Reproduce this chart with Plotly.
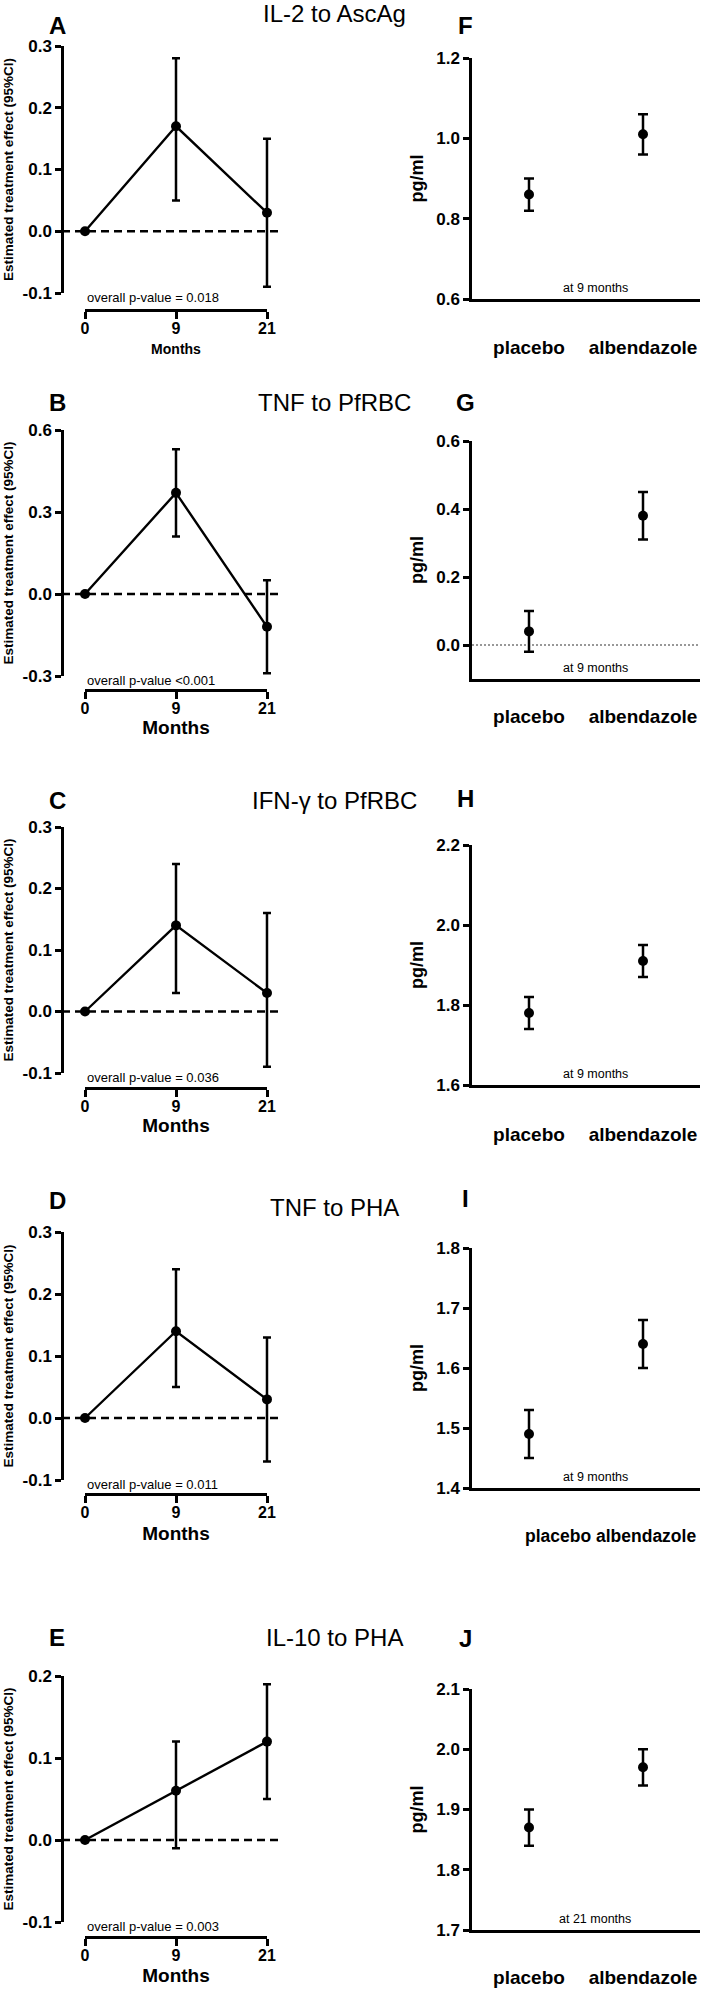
import plotly.graph_objects as go

W, H = 703, 1992

# ---------------- data ----------------
months = ["0", "9", "21"]
titles = ["IL-2 to AscAg", "TNF to PfRBC", "IFN-γ to PfRBC", "TNF to PHA", "IL-10 to PHA"]
left_letters = ["A", "B", "C", "D", "E"]
right_letters = ["F", "G", "H", "I", "J"]
pvalues = ["overall p-value = 0.018", "overall p-value <0.001", "overall p-value = 0.036",
           "overall p-value = 0.011", "overall p-value = 0.003"]

effect_A = [0, 0.17, 0.03]
lower_A = [0, 0.05, -0.09]
upper_A = [0, 0.28, 0.15]
effect_B = [0, 0.37, -0.12]
lower_B = [0, 0.21, -0.29]
upper_B = [0, 0.53, 0.05]
effect_C = [0, 0.14, 0.03]
lower_C = [0, 0.03, -0.09]
upper_C = [0, 0.24, 0.16]
effect_D = [0, 0.14, 0.03]
lower_D = [0, 0.05, -0.07]
upper_D = [0, 0.24, 0.13]
effect_E = [0, 0.06, 0.12]
lower_E = [0, -0.01, 0.05]
upper_E = [0, 0.12, 0.19]

left_ranges = [[-0.1, 0.3], [-0.3, 0.6], [-0.1, 0.3], [-0.1, 0.3], [-0.1, 0.2]]
left_tickvals = [[-0.1, 0.0, 0.1, 0.2, 0.3], [-0.3, 0.0, 0.3, 0.6], [-0.1, 0.0, 0.1, 0.2, 0.3],
                 [-0.1, 0.0, 0.1, 0.2, 0.3], [-0.1, 0.0, 0.1, 0.2]]
left_ticktext = [["-0.1", "0.0", "0.1", "0.2", "0.3"], ["-0.3", "0.0", "0.3", "0.6"],
                 ["-0.1", "0.0", "0.1", "0.2", "0.3"], ["-0.1", "0.0", "0.1", "0.2", "0.3"],
                 ["-0.1", "0.0", "0.1", "0.2"]]

groups = ["placebo", "albendazole"]
mean_F = [0.86, 1.01]
low_F = [0.82, 0.96]
high_F = [0.90, 1.06]
mean_G = [0.04, 0.38]
low_G = [-0.02, 0.31]
high_G = [0.10, 0.45]
mean_H = [1.78, 1.91]
low_H = [1.74, 1.87]
high_H = [1.82, 1.95]
mean_I = [1.49, 1.64]
low_I = [1.45, 1.60]
high_I = [1.53, 1.68]
mean_J = [1.87, 1.97]
low_J = [1.84, 1.94]
high_J = [1.90, 2.00]
timepoints = ["at 9 months", "at 9 months", "at 9 months", "at 9 months", "at 21 months"]

right_ranges = [[0.6, 1.2], [-0.1, 0.6], [1.6, 2.2], [1.4, 1.8], [1.7, 2.1]]
right_tickvals = [[0.6, 0.8, 1.0, 1.2], [0.0, 0.2, 0.4, 0.6], [1.6, 1.8, 2.0, 2.2],
                  [1.4, 1.5, 1.6, 1.7, 1.8], [1.7, 1.8, 1.9, 2.0, 2.1]]
right_ticktext = [["0.6", "0.8", "1.0", "1.2"], ["0.0", "0.2", "0.4", "0.6"], ["1.6", "1.8", "2.0", "2.2"],
                  ["1.4", "1.5", "1.6", "1.7", "1.8"], ["1.7", "1.8", "1.9", "2.0", "2.1"]]

left_series = [(effect_A, lower_A, upper_A), (effect_B, lower_B, upper_B), (effect_C, lower_C, upper_C),
               (effect_D, lower_D, upper_D), (effect_E, lower_E, upper_E)]
right_series = [(mean_F, low_F, high_F), (mean_G, low_G, high_G), (mean_H, low_H, high_H),
                (mean_I, low_I, high_I), (mean_J, low_J, high_J)]

# ---------------- layout geometry (pixels) ----------------
L_yaxis_x = 62
L_plot_right = 282
L_ytop = [46, 430, 827, 1232, 1676]
L_ybot = [293, 676, 1073, 1480, 1922]
L_xline = [310, 690, 1088, 1494, 1937]
L_months_size = [14, 19, 19, 19, 19]
L_months_standoff = [8, 1, 1, 6, 5]
L_title_y = [14, 403, 800, 1207, 1637]
L_letter_y = [25, 403, 800, 1200, 1637]
R_ytop = [58, 441, 845, 1248, 1689]
R_ybot = [299, 679, 1085, 1488, 1930]
R_label_off = [49, 38, 50, 48, 48]
R_letter_y = [25, 403, 798, 1198, 1638]

FONT = "Liberation Sans, Arial, Helvetica, sans-serif"


def fx(px):
    return px / W


def fy(py):
    return 1 - py / H


def axname(kind, n):
    return kind + "axis" + ("" if n == 1 else str(n))


def ref(kind, n):
    return kind + ("" if n == 1 else str(n))


fig = go.Figure()
layout = {}
annotations = []
shapes = []

for i in range(5):
    xd, xv, yn = 2 * i + 1, 2 * i + 2, i + 1
    est, lo, hi = left_series[i]
    plus = [h - e for h, e in zip(hi, est)]
    minus = [e - l for e, l in zip(est, lo)]
    fig.add_trace(go.Scatter(
        x=months, y=est, xaxis=ref("x", xd), yaxis=ref("y", yn),
        mode="lines+markers", line=dict(color="black", width=2.4),
        marker=dict(color="black", size=10),
        error_y=dict(type="data", array=plus, arrayminus=minus, color="black",
                     thickness=2.5, width=4),
        cliponaxis=False, showlegend=False, hoverinfo="skip"))
    fig.add_trace(go.Scatter(
        x=list(range(len(months))), y=[None] * len(months),
        xaxis=ref("x", xv), yaxis=ref("y", yn), mode="markers",
        showlegend=False, hoverinfo="skip"))

    layout[axname("x", xd)] = dict(
        domain=[fx(L_yaxis_x), fx(L_plot_right)], range=[-0.253, 2.165], type="category",
        anchor=ref("y", yn), showline=False, showticklabels=False, ticks="",
        showgrid=False, zeroline=False, automargin=False)
    layout[axname("x", xv)] = dict(
        domain=[fx(85), fx(267)], range=[0, 2], type="linear",
        anchor="free", position=fy(L_xline[i]), showline=True, linecolor="black",
        linewidth=2.5, ticks="outside", ticklen=7, tickwidth=2.5, tickcolor="black",
        tickmode="array", tickvals=list(range(len(months))), ticktext=months,
        tickfont=dict(size=16, weight="bold", color="black"), ticklabelstandoff=-4,
        showgrid=False, zeroline=False, automargin=False,
        title=dict(text="Months", font=dict(size=L_months_size[i], weight="bold", color="black"),
                   standoff=L_months_standoff[i]))
    layout[axname("y", yn)] = dict(
        domain=[fy(L_ybot[i]), fy(L_ytop[i])], range=left_ranges[i],
        anchor="free", position=fx(L_yaxis_x), showline=True, linecolor="black", linewidth=2.5,
        ticks="outside", ticklen=6, tickwidth=2.5, tickcolor="black",
        tickmode="array", tickvals=left_tickvals[i], ticktext=left_ticktext[i],
        tickfont=dict(size=17, weight="bold", color="black"),
        showgrid=False, zeroline=False, automargin=False,
        title=dict(text="Estimated treatment effect (95%CI)",
                   font=dict(size=13.5, weight="bold", color="black"), standoff=4))

    shapes.append(dict(type="line", xref="paper", x0=fx(L_yaxis_x), x1=fx(L_plot_right),
                       yref=ref("y", yn), y0=0, y1=0, layer="below",
                       line=dict(color="black", width=2.5, dash="8px,5px")))
    annotations.append(dict(text=pvalues[i], xref=ref("x", xv) + " domain", x=0,
                            xanchor="left", yref=ref("y", yn) + " domain", y=0,
                            yanchor="middle", yshift=-4, showarrow=False,
                            font=dict(size=13, color="black")))
    annotations.append(dict(text=titles[i], xref="paper", x=fx(334), xanchor="center",
                            yref="paper", y=fy(L_title_y[i]), yanchor="middle",
                            showarrow=False, font=dict(size=24, color="black")))
    annotations.append(dict(text=left_letters[i], xref="paper", x=fx(57), xanchor="center",
                            yref="paper", y=fy(L_letter_y[i]), yanchor="middle",
                            showarrow=False, font=dict(size=24, weight="bold", color="black")))

for j in range(5):
    xn, yn = 11 + j, 6 + j
    m, lo, hi = right_series[j]
    plus = [h - e for h, e in zip(hi, m)]
    minus = [e - l for e, l in zip(m, lo)]
    fig.add_trace(go.Scatter(
        x=groups, y=m, xaxis=ref("x", xn), yaxis=ref("y", yn), mode="markers",
        marker=dict(color="black", size=10),
        error_y=dict(type="data", array=plus, arrayminus=minus, color="black",
                     thickness=2.5, width=5),
        cliponaxis=False, showlegend=False, hoverinfo="skip"))
    xa = dict(
        domain=[fx(472), fx(700)], range=[-0.5, 1.5], type="category",
        anchor=ref("y", yn), showline=True, linecolor="black", linewidth=2.5,
        ticks="", tickfont=dict(size=19, weight="bold", color="black"),
        ticklabelstandoff=R_label_off[j] - 20, showgrid=False, zeroline=False,
        automargin=False)
    if j == 3:
        xa["showticklabels"] = False
        annotations.append(dict(text=" ".join(groups), xref=ref("x", xn) + " domain",
                                x=(610 - 472) / 228, xanchor="center",
                                yref=ref("y", yn) + " domain", y=0, yanchor="middle",
                                yshift=-R_label_off[j], showarrow=False,
                                font=dict(size=17.5, weight="bold", color="black")))
    layout[axname("x", xn)] = xa
    layout[axname("y", yn)] = dict(
        domain=[fy(R_ybot[j]), fy(R_ytop[j])], range=right_ranges[j],
        anchor=ref("x", xn), showline=True, linecolor="black", linewidth=2.5,
        ticks="outside", ticklen=6, tickwidth=2.5, tickcolor="black",
        tickmode="array", tickvals=right_tickvals[j], ticktext=right_ticktext[j],
        tickfont=dict(size=17, weight="bold", color="black"),
        showgrid=False, zeroline=False, automargin=False,
        title=dict(text="pg/ml", font=dict(size=18, weight="bold", color="black"), standoff=8))
    annotations.append(dict(text=timepoints[j], xref=ref("x", xn) + " domain",
                            x=(595 - 472) / 228, xanchor="center",
                            yref=ref("y", yn) + " domain", y=0, yanchor="bottom",
                            yshift=2, showarrow=False, font=dict(size=12.5, color="black")))
    annotations.append(dict(text=right_letters[j], xref="paper", x=fx(465), xanchor="center",
                            yref="paper", y=fy(R_letter_y[j]), yanchor="middle",
                            showarrow=False, font=dict(size=24, weight="bold", color="black")))
    if right_ranges[j][0] < 0:
        shapes.append(dict(type="line", xref=ref("x", xn) + " domain", x0=0, x1=1,
                           yref=ref("y", yn), y0=0, y1=0, layer="below",
                           line=dict(color="#333333", width=1.2, dash="2px,2px")))

fig.update_layout(
    width=W, height=H, margin=dict(l=0, r=0, t=0, b=0, pad=0, autoexpand=False),
    paper_bgcolor="white", plot_bgcolor="rgba(0,0,0,0)",
    font=dict(family=FONT, color="black"), showlegend=False,
    annotations=annotations, shapes=shapes, **layout)

fig.write_html("out.html", config={"displayModeBar": False},
               post_script="document.body.style.margin='0';document.body.style.padding='0';")
